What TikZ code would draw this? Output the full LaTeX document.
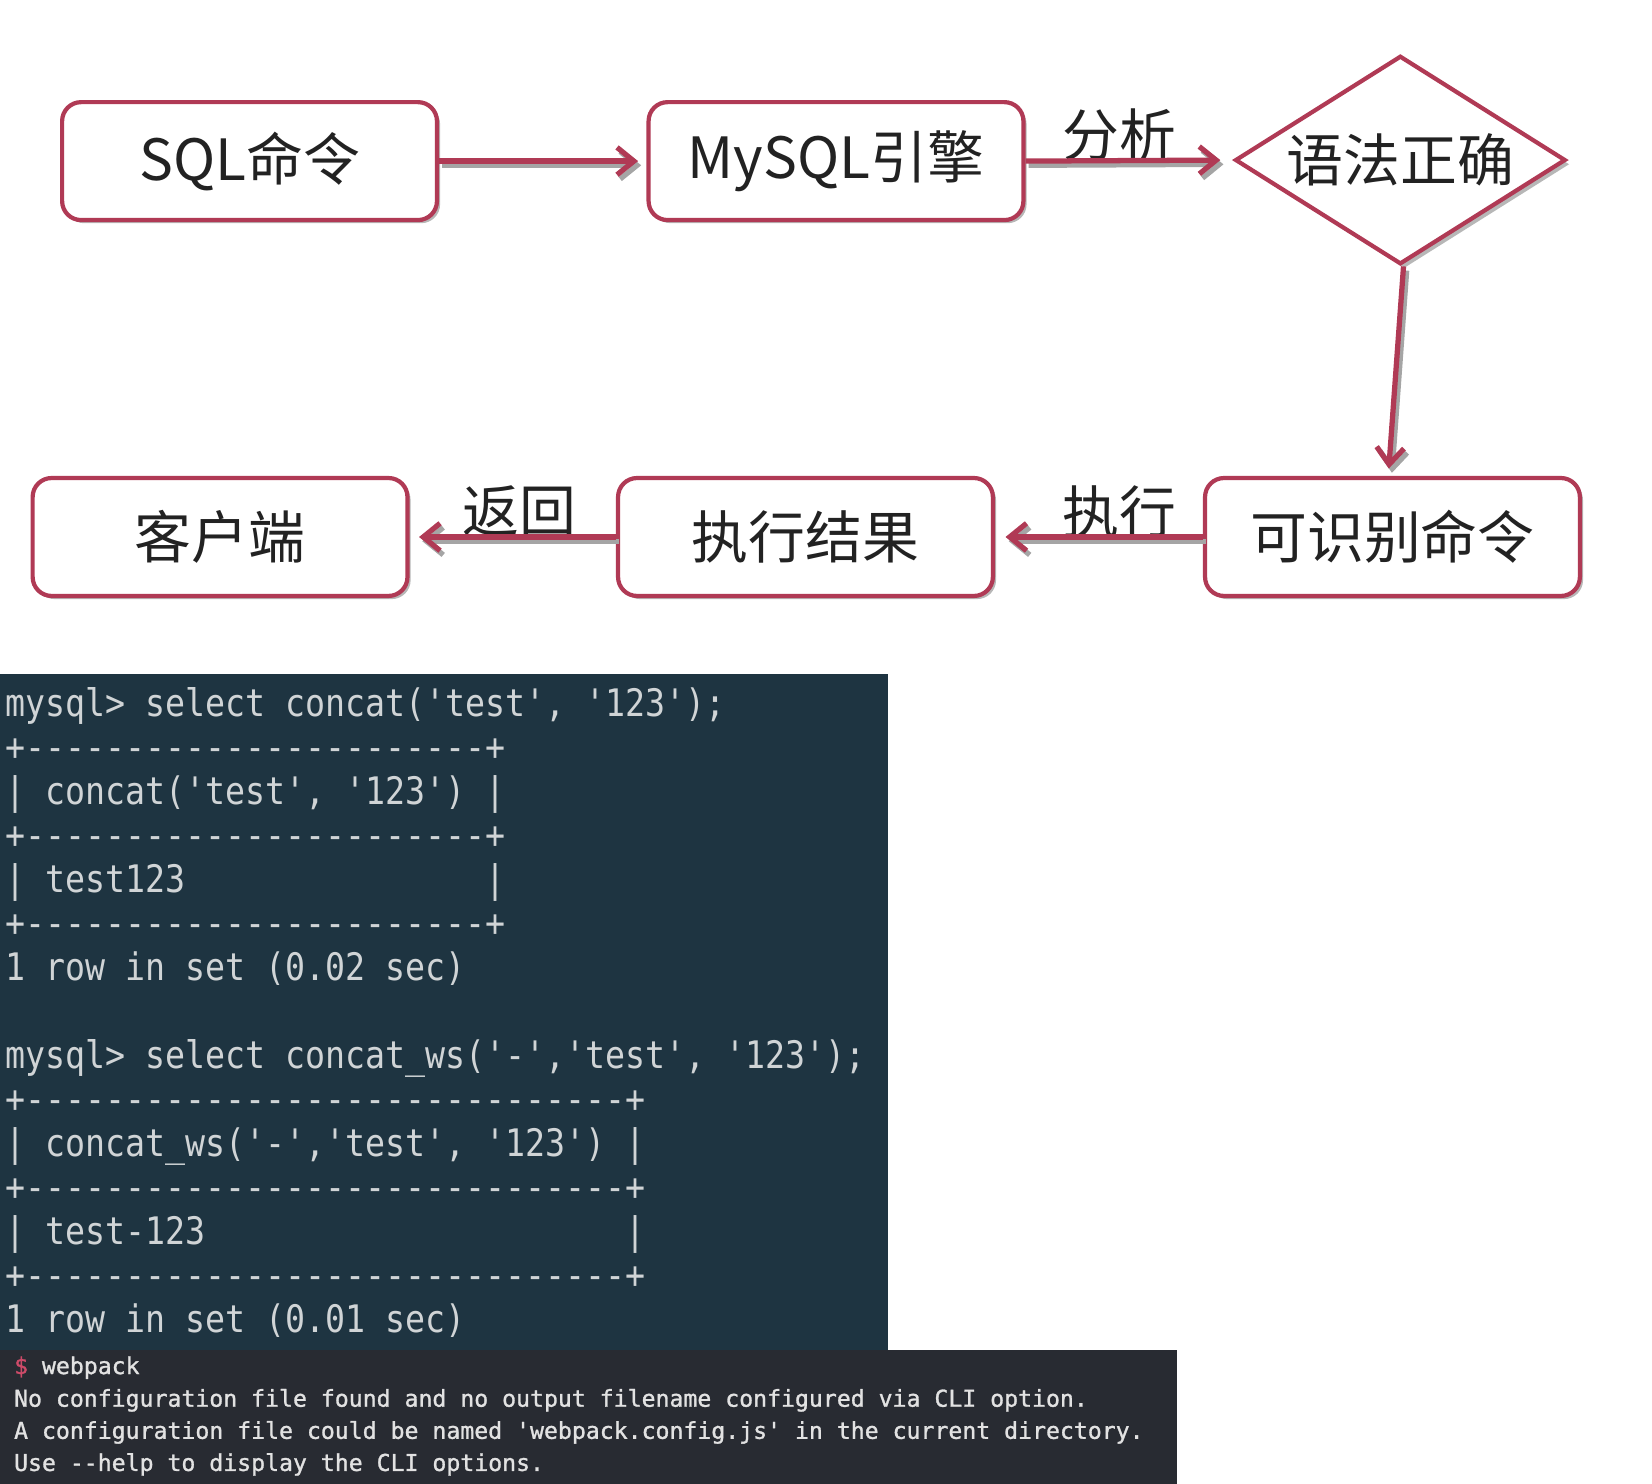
\documentclass[tikz,border=0pt]{standalone}
\usepackage{fontspec}
\usetikzlibrary{shapes.geometric,arrows.meta,shadows}
\newfontfamily\cjk{Noto Sans CJK SC}
\newfontfamily\termfont[FakeStretch=0.877,Ligatures=TeXOff]{DejaVu Sans Mono}
\newfontfamily\termfontb[FakeBold=1.2,Ligatures=TeXOff]{DejaVu Sans Mono}
\definecolor{crim}{RGB}{176,58,85}
\definecolor{shade}{RGB}{165,165,165}
\definecolor{tealbg}{RGB}{30,52,65}
\definecolor{graybg}{RGB}{40,43,50}
\definecolor{termtxt}{RGB}{208,212,214}
\definecolor{termtxtb}{RGB}{226,226,226}
\definecolor{dollar}{RGB}{205,75,105}
\definecolor{ink}{RGB}{34,34,34}
\begin{document}
\begin{tikzpicture}[x=0.5pt,y=-0.5pt,
  flowbox/.style={draw=crim, line width=2pt, rounded corners=9pt, fill=white,
    minimum width=178pt, minimum height=56pt, inner sep=0pt,
    font=\cjk\fontsize{27pt}{32pt}\selectfont, text=ink,
    drop shadow={shadow xshift=1.5pt, shadow yshift=-1.5pt, fill=shade, opacity=0.8}},
  flowdia/.style={diamond, aspect=1.58, draw=crim, line width=2pt, fill=white,
    minimum width=157pt, minimum height=99pt, inner sep=0pt,
    font=\cjk\fontsize{27pt}{32pt}\selectfont, text=ink,
    drop shadow={shadow xshift=2pt, shadow yshift=-2pt, fill=shade, opacity=0.8}},
  flowarrow/.style={draw=crim, line width=2.5pt, -{Straight Barb[length=8pt,width=13pt]}},
  arrowshadow/.style={draw=shade, line width=2.5pt, -{Straight Barb[length=8pt,width=13pt]},
    transform canvas={shift={(1.5pt,-2pt)}}},
  flowlabel/.style={font=\cjk\fontsize{27pt}{32pt}\selectfont, text=ink, inner sep=0pt},
  termA/.style={anchor=base west, inner sep=0pt, text=termtxt,
    font=\termfont\fontsize{18pt}{20pt}\selectfont},
  termB/.style={anchor=base west, inner sep=0pt, text=termtxtb,
    font=\termfontb\fontsize{11pt}{13pt}\selectfont}]
\useasboundingbox (0,0) rectangle (1569,1409);

% flow chart
\node[flowbox] (sql)    at (237,153)    {\raisebox{1.5pt}{SQL命令}};
\node[flowbox] (mysql)  at (794,153)    {\raisebox{1.5pt}{MySQL引擎}};
\node[flowdia] (dia)    at (1330,152)   {语法正确};
\node[flowbox] (ident)  at (1322.5,510) {\raisebox{1pt}{可识别命令}};
\node[flowbox] (exec)   at (765,510)    {\raisebox{1pt}{执行结果}};
\node[flowbox] (client) at (209,510)    {\raisebox{1pt}{客户端}};

\node[flowlabel] (lab1) at (1063,128) {分析};
\node[flowlabel] (lab2) at (1063,486) {执行};
\node[flowlabel] (lab3) at (493,486)  {返回};

\draw[arrowshadow, shorten >=4pt] (sql.east) -- (mysql.west);
\draw[flowarrow,   shorten >=4pt] (sql.east) -- (mysql.west);
\draw[arrowshadow, shorten >=6pt] (mysql.east) -- (dia.west);
\draw[flowarrow,   shorten >=6pt] (mysql.east) -- (dia.west);
\draw[arrowshadow, shorten >=3.5pt] ([xshift=1.5pt]dia.south) -- ([xshift=-2pt]ident.north);
\draw[flowarrow,   shorten >=3.5pt] ([xshift=1.5pt]dia.south) -- ([xshift=-2pt]ident.north);
\draw[arrowshadow, shorten >=5pt] (ident.west) -- (exec.east);
\draw[flowarrow,   shorten >=5pt] (ident.west) -- (exec.east);
\draw[arrowshadow, shorten >=4.5pt] (exec.west) -- (client.east);
\draw[flowarrow,   shorten >=4.5pt] (exec.west) -- (client.east);

% terminal 1
\fill[tealbg] (0,640) rectangle (843,1282);
\node[termA] (a0)  at (4.5,680.6)  {mysql> select concat('test', '123');};
\node[termA] (a1)  at (4.5,722.4)  {+-----------------------+};
\node[termA] (a2)  at (4.5,764.1)  {| concat('test', '123') |};
\node[termA] (a3)  at (4.5,805.9)  {+-----------------------+};
\node[termA] (a4)  at (4.5,847.6)  {| test123};
\node[termA] (a4b) at (460.5,847.6) {|};
\node[termA] (a5)  at (4.5,889.4)  {+-----------------------+};
\node[termA] (a6)  at (4.5,931.1)  {1 row in set (0.02 sec)};
\node[termA] (a8)  at (4.5,1014.6) {mysql> select concat\_ws('-','test', '123');};
\node[termA] (a9)  at (4.5,1056.4) {+------------------------------+};
\node[termA] (a10) at (4.5,1098.1) {| concat\_ws('-','test', '123') |};
\node[termA] (a11) at (4.5,1139.9) {+------------------------------+};
\node[termA] (a12) at (4.5,1181.6) {| test-123};
\node[termA] (a12b) at (593.5,1181.6) {|};
\node[termA] (a13) at (4.5,1223.4) {+------------------------------+};
\node[termA] (a14) at (4.5,1265.1) {1 row in set (0.01 sec)};

% terminal 2
\fill[graybg] (0,1282) rectangle (1118,1409);
\node[termB] (b0) at (13,1305) {\textcolor{dollar}{\$} webpack};
\node[termB] (b1) at (13,1336) {No configuration file found and no output filename configured via CLI option.};
\node[termB] (b2) at (13,1366.5) {A configuration file could be named 'webpack.config.js' in the current directory.};
\node[termB] (b3) at (13,1397) {Use --help to display the CLI options.};
\end{tikzpicture}
\end{document}
